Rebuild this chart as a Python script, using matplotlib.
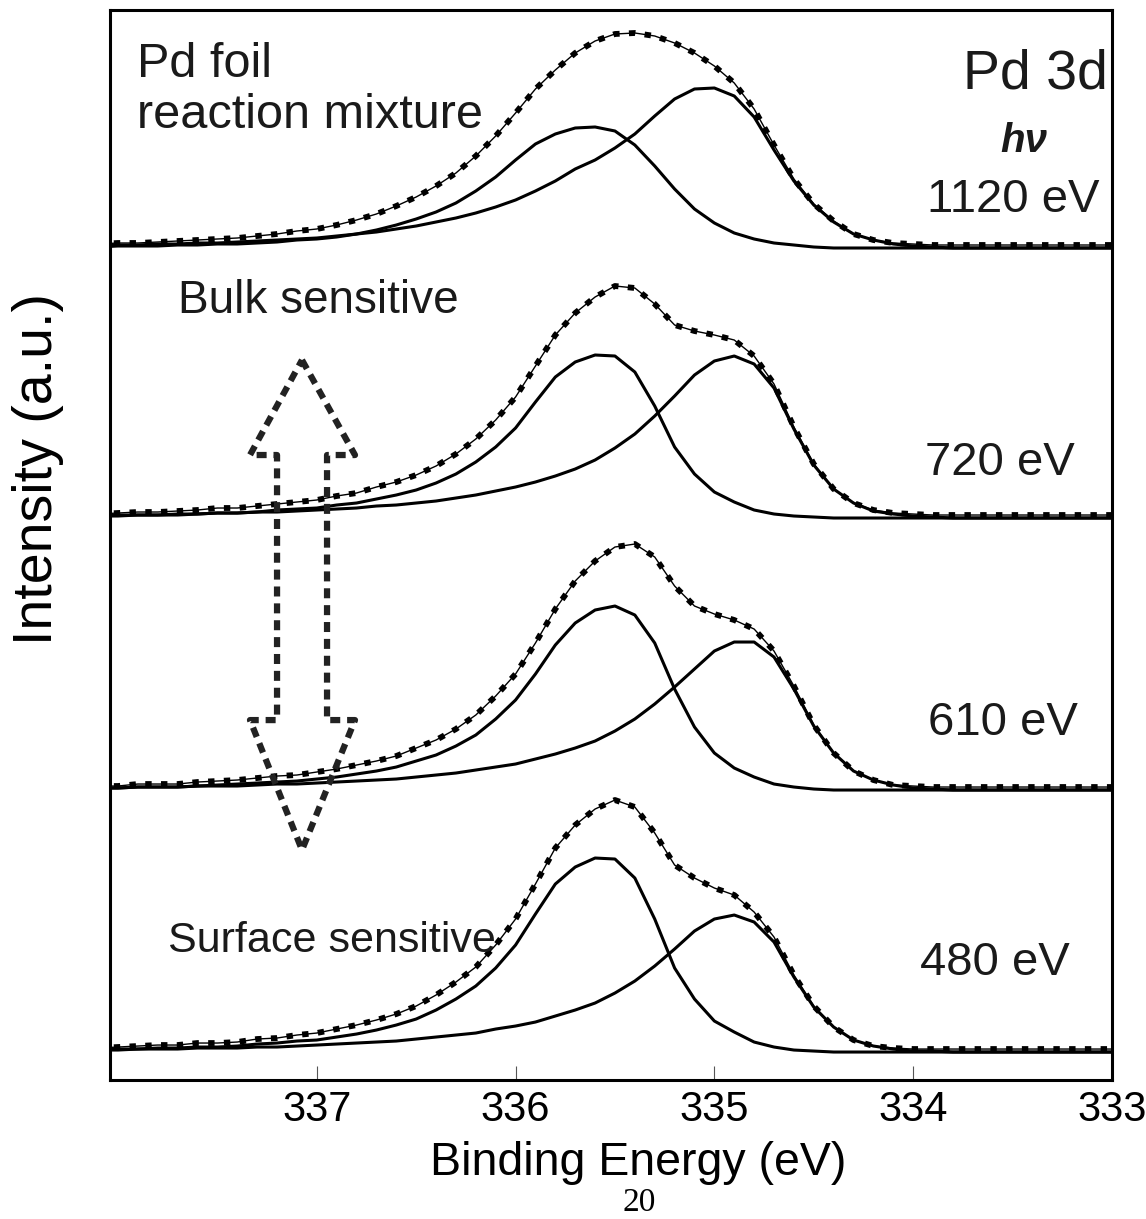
import numpy as np
import matplotlib.pyplot as plt

plt.rcParams['font.family'] = ['Liberation Sans', 'DejaVu Sans']

# binding energy grid of the spectra (eV)
energy = np.linspace(338.1, 333.0, 52)

photon_energy = ['1120 eV', '720 eV', '610 eV', '480 eV']
offsets = [804, 534, 262, 0]

# Pd 3d5/2 fit components (a: high BE, b: low BE) and measured envelope, a.u.
s1120_a = [1, 2, 2, 2, 3, 3, 4, 4, 5, 6, 8, 9, 11, 14, 18, 23, 29, 36, 45, 57,
           71, 88, 104, 114, 120, 121, 117, 103, 82, 59, 39, 25, 15, 9, 5, 3, 1, 0, 0, 0,
           0, 0, 0, 0, 0, 0, 0, 0, 0, 0, 0, 0]
s1120_b = [3, 3, 3, 4, 4, 5, 5, 6, 7, 8, 9, 10, 12, 14, 16, 19, 22, 26, 30, 35,
           41, 48, 57, 67, 79, 88, 100, 114, 132, 149, 159, 160, 152, 131, 98, 67, 43, 26, 14, 8,
           4, 2, 1, 0, 0, 0, 0, 0, 0, 0, 0, 0]
s1120_env = [4, 5, 5, 6, 7, 8, 9, 10, 12, 14, 17, 19, 23, 28, 34, 42, 51, 62, 75, 92,
             112, 135, 159, 178, 195, 207, 214, 215, 212, 205, 195, 182, 165, 139, 103, 69, 44, 27, 14, 8,
             5, 4, 3, 3, 3, 3, 3, 3, 3, 3, 3, 3]

s720_a = [2, 2, 3, 3, 3, 4, 5, 5, 6, 8, 9, 10, 13, 15, 19, 23, 28, 35, 44, 56,
          71, 90, 116, 141, 156, 163, 162, 146, 112, 71, 44, 26, 16, 8, 4, 2, 1, 0, 0, 0,
          0, 0, 0, 0, 0, 0, 0, 0, 0, 0, 0, 0]
s720_b = [2, 3, 3, 3, 4, 4, 5, 5, 6, 6, 7, 8, 9, 10, 12, 13, 15, 17, 20, 23,
          27, 31, 36, 42, 49, 58, 70, 84, 102, 122, 143, 157, 162, 154, 130, 89, 53, 29, 15, 7,
          4, 2, 1, 0, 0, 0, 0, 0, 0, 0, 0, 0]
s720_env = [4, 5, 6, 6, 7, 8, 10, 10, 12, 14, 16, 18, 22, 25, 31, 36, 43, 52, 64, 79,
            98, 121, 152, 183, 205, 221, 232, 230, 214, 193, 187, 183, 178, 162, 134, 91, 54, 29, 15, 8,
            5, 4, 3, 3, 3, 3, 3, 3, 3, 3, 3, 3]

s610_a = [2, 2, 3, 3, 3, 4, 5, 6, 7, 8, 9, 11, 13, 16, 19, 23, 29, 35, 44, 55,
          71, 90, 116, 145, 167, 180, 184, 175, 147, 101, 63, 37, 22, 13, 6, 3, 1, 0, 0, 0,
          0, 0, 0, 0, 0, 0, 0, 0, 0, 0, 0, 0]
s610_b = [2, 2, 3, 3, 3, 4, 4, 4, 5, 6, 6, 7, 8, 9, 10, 11, 13, 15, 17, 20,
          23, 26, 31, 36, 42, 49, 59, 71, 86, 103, 121, 139, 148, 148, 133, 101, 64, 37, 19, 10,
          5, 2, 1, 0, 0, 0, 0, 0, 0, 0, 0, 0]
s610_env = [4, 4, 6, 6, 6, 8, 9, 10, 12, 14, 15, 18, 21, 25, 29, 34, 42, 50, 61, 75,
            94, 116, 147, 181, 209, 229, 243, 246, 233, 204, 184, 176, 170, 161, 139, 104, 65, 37, 19, 10,
            5, 4, 3, 3, 3, 3, 3, 3, 3, 3, 3, 3]

s480_a = [2, 3, 3, 4, 4, 5, 5, 6, 8, 9, 11, 12, 15, 18, 22, 27, 33, 42, 53, 66,
          84, 107, 138, 168, 185, 194, 193, 174, 133, 84, 53, 31, 20, 10, 5, 2, 1, 0, 0, 0,
          0, 0, 0, 0, 0, 0, 0, 0, 0, 0, 0, 0]
s480_b = [2, 2, 3, 3, 3, 4, 4, 4, 5, 5, 6, 7, 8, 9, 10, 11, 13, 15, 17, 19,
          23, 26, 30, 36, 42, 49, 59, 71, 86, 103, 121, 133, 137, 130, 110, 75, 45, 25, 12, 6,
          3, 1, 1, 0, 0, 0, 0, 0, 0, 0, 0, 0]
s480_env = [4, 5, 6, 7, 7, 9, 9, 10, 13, 14, 17, 19, 23, 27, 32, 38, 46, 57, 70, 85,
            107, 133, 168, 204, 227, 243, 252, 245, 219, 187, 174, 164, 157, 140, 115, 77, 46, 25, 12, 6,
            4, 3, 3, 3, 3, 3, 3, 3, 3, 3, 3, 3]

spectra = [(s1120_a, s1120_b, s1120_env),
           (s720_a, s720_b, s720_env),
           (s610_a, s610_b, s610_env),
           (s480_a, s480_b, s480_env)]

fig = plt.figure(figsize=(11.46, 12.19), dpi=100)
ax = fig.add_axes([0.096, 0.114, 0.8743, 0.8778])

for (comp_a, comp_b, env), off in zip(spectra, offsets):
    ax.plot(energy, np.array(comp_a) + off, color='black', lw=2.2, solid_joinstyle='round')
    ax.plot(energy, np.array(comp_b) + off, color='black', lw=2.2, solid_joinstyle='round')
    ax.plot(energy, np.array(env) + off, color='black', lw=1.0)
    ax.plot(energy, np.array(env) + off, color='black', lw=4.2,
            linestyle=(0, (1.1, 1.6)), dash_capstyle='butt')

ax.set_xlim(338.04, 333.05)
ax.set_ylim(-28, 1042)
ax.set_xticks([337, 336, 335, 334, 333])
ax.set_yticks([])
ax.tick_params(axis='x', direction='in', length=10, width=0.8, color='#555555',
               labelsize=30, pad=7)
for sp in ax.spines.values():
    sp.set_linewidth(2.2)

# double arrow (bulk <-> surface), outline drawn dashed
arrow_x = [0.1916, 0.2445, 0.2166, 0.2166, 0.2445, 0.1916, 0.1397, 0.1667, 0.1667, 0.1397, 0.1916]
arrow_y = [0.6729, 0.5841, 0.5841, 0.3364, 0.3364, 0.2150, 0.3364, 0.3364, 0.5841, 0.5841, 0.6729]
ax.plot(arrow_x, arrow_y, transform=ax.transAxes, color='#222222', lw=4.5,
        linestyle=(0, (1.6, 1.1)), dash_capstyle='butt')

txt = dict(transform=ax.transAxes, color='#1a1a1a')
ax.text(0.027, 0.9374, 'Pd foil', va='baseline', fontsize=35, **txt)
ax.text(0.027, 0.8897, 'reaction mixture', va='baseline', fontsize=35, **txt)
ax.text(0.068, 0.7168, 'Bulk sensitive', va='baseline', fontsize=33, **txt)
ax.text(0.058, 0.1196, 'Surface sensitive', va='baseline', fontsize=31, **txt)
ax.text(0.996, 0.927, 'Pd 3d', ha='right', va='baseline', fontsize=40, **txt)
ax.text(0.912, 0.867, 'hν', ha='center', va='baseline', fontsize=29,
        style='italic', fontweight='bold', **txt)

label_pos = [(0.988, 0.811), (0.963, 0.5654), (0.966, 0.3224), (0.958, 0.0981)]
for lab, (lx, ly) in zip(photon_energy, label_pos):
    ax.text(lx, ly, lab, ha='right', va='baseline', fontsize=34, **txt)

fig.text(0.033, 0.6155, 'Intensity (a.u.)', rotation=90, ha='center', va='center',
         fontsize=40)
fig.text(0.5567, 0.046, 'Binding Energy (eV)', ha='center', va='center', fontsize=33.5)
fig.text(0.558, 0.0135, '20', ha='center', va='center', fontsize=24,
         family=['Liberation Serif', 'DejaVu Serif'])

fig.savefig('out.png', dpi=100)
